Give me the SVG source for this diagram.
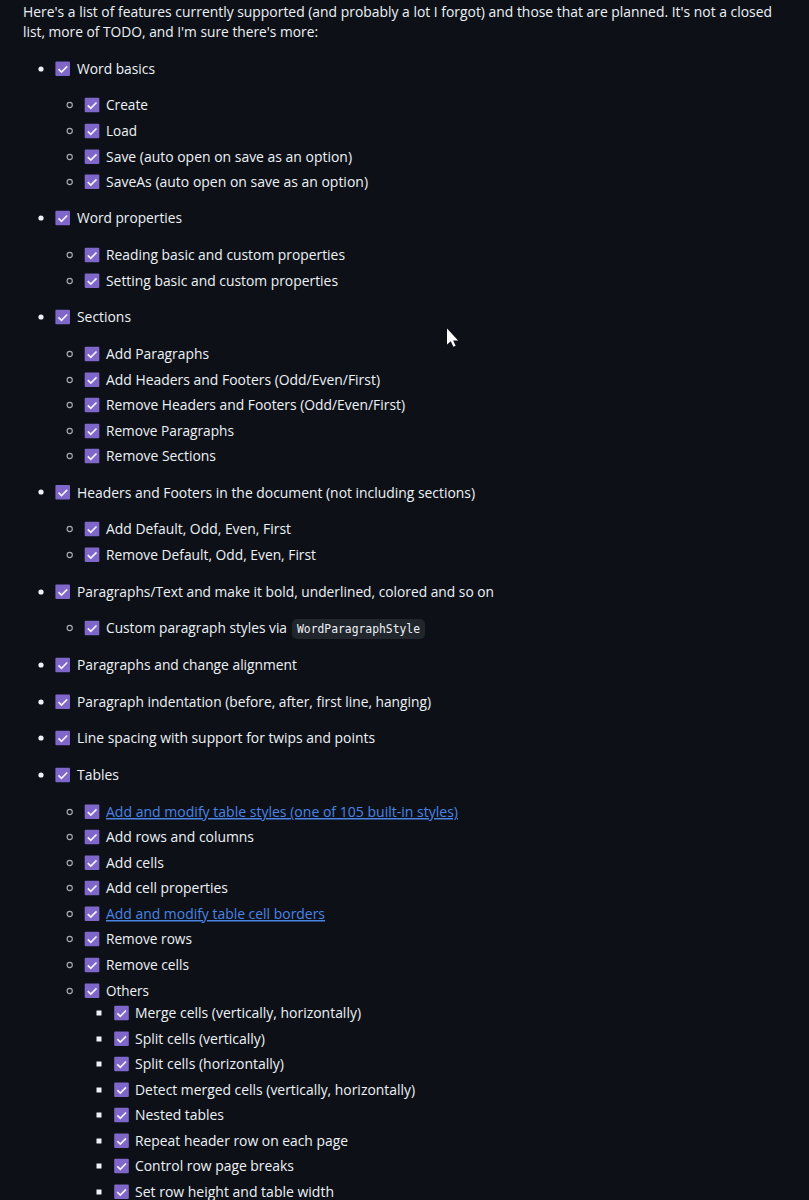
<svg xmlns="http://www.w3.org/2000/svg" width="809" height="1200" viewBox="0 0 809 1200">
<style>
text{font-family:"Open Sans","Noto Sans","Liberation Sans",sans-serif;font-size:15px;fill:#eef2f7}
.lnk{fill:#4a84e4;text-decoration:underline;text-underline-offset:3px}
.code{font-family:"DejaVu Sans Mono","Liberation Mono",monospace;font-size:11.5px}
.o{fill:none;stroke:#a9aeb5;stroke-width:1.1}
.d{fill:#eef2f7}
</style>
<defs>
<g id="cb"><rect x="0" y="0" width="14.6" height="14.6" rx="1" fill="#7f66c9"/><path d="M3.100 7.700l3 2.900 5.700-5.800" fill="none" stroke="#f4f2fc" stroke-width="1.700"/></g>
<circle id="b1" r="2.600" class="d"/>
<circle id="b2" r="2.600" class="o"/>
<rect id="b3" x="-2.500" y="-2.500" width="5" height="5" class="d"/>
</defs>
<rect width="809" height="1200" fill="#0d1117"/>
<g id="intro">
<text x="23" y="16.500" textLength="749" lengthAdjust="spacingAndGlyphs">Here's a list of features currently supported (and probably a lot I forgot) and those that are planned. It's not a closed</text>
<text x="23" y="37" textLength="295" lengthAdjust="spacingAndGlyphs">list, more of TODO, and I'm sure there's more:</text>
</g>
<g id="list">
<use href="#b1" x="41" y="69"/><use href="#cb" x="55.4" y="61.5"/><text x="77" y="74" textLength="78" lengthAdjust="spacingAndGlyphs">Word basics</text>
<use href="#b2" x="69.700" y="105"/><use href="#cb" x="84.7" y="97.7"/><text x="106" y="110" textLength="42" lengthAdjust="spacingAndGlyphs">Create</text>
<use href="#b2" x="69.700" y="131"/><use href="#cb" x="84.7" y="123.7"/><text x="106" y="136" textLength="31" lengthAdjust="spacingAndGlyphs">Load</text>
<use href="#b2" x="69.700" y="157"/><use href="#cb" x="84.7" y="149.5"/><text x="106" y="162" textLength="246" lengthAdjust="spacingAndGlyphs">Save (auto open on save as an option)</text>
<use href="#b2" x="69.700" y="182"/><use href="#cb" x="84.7" y="174.5"/><text x="106" y="187" textLength="262" lengthAdjust="spacingAndGlyphs">SaveAs (auto open on save as an option)</text>
<use href="#b1" x="41" y="218"/><use href="#cb" x="55.4" y="210.7"/><text x="77" y="223" textLength="105" lengthAdjust="spacingAndGlyphs">Word properties</text>
<use href="#b2" x="69.700" y="255"/><use href="#cb" x="84.7" y="247.7"/><text x="106" y="260" textLength="239" lengthAdjust="spacingAndGlyphs">Reading basic and custom properties</text>
<use href="#b2" x="69.700" y="281"/><use href="#cb" x="84.7" y="273.5"/><text x="106" y="286" textLength="232" lengthAdjust="spacingAndGlyphs">Setting basic and custom properties</text>
<use href="#b1" x="41" y="317"/><use href="#cb" x="55.4" y="309.7"/><text x="77" y="322" textLength="54" lengthAdjust="spacingAndGlyphs">Sections</text>
<use href="#b2" x="69.700" y="354"/><use href="#cb" x="84.7" y="346.7"/><text x="106" y="359" textLength="103" lengthAdjust="spacingAndGlyphs">Add Paragraphs</text>
<use href="#b2" x="69.700" y="380"/><use href="#cb" x="84.7" y="372.5"/><text x="106" y="385" textLength="274" lengthAdjust="spacingAndGlyphs">Add Headers and Footers (Odd/Even/First)</text>
<use href="#b2" x="69.700" y="405"/><use href="#cb" x="84.7" y="397.7"/><text x="106" y="410" textLength="299" lengthAdjust="spacingAndGlyphs">Remove Headers and Footers (Odd/Even/First)</text>
<use href="#b2" x="69.700" y="431"/><use href="#cb" x="84.7" y="423.7"/><text x="106" y="436" textLength="128" lengthAdjust="spacingAndGlyphs">Remove Paragraphs</text>
<use href="#b2" x="69.700" y="456"/><use href="#cb" x="84.7" y="448.7"/><text x="106" y="461" textLength="110" lengthAdjust="spacingAndGlyphs">Remove Sections</text>
<use href="#b1" x="41" y="492"/><use href="#cb" x="55.4" y="485"/><text x="77" y="498" textLength="398" lengthAdjust="spacingAndGlyphs">Headers and Footers in the document (not including sections)</text>
<use href="#b2" x="69.700" y="529"/><use href="#cb" x="84.7" y="521.7"/><text x="106" y="534" textLength="185" lengthAdjust="spacingAndGlyphs">Add Default, Odd, Even, First</text>
<use href="#b2" x="69.700" y="555"/><use href="#cb" x="84.7" y="547.5"/><text x="106" y="560" textLength="210" lengthAdjust="spacingAndGlyphs">Remove Default, Odd, Even, First</text>
<use href="#b1" x="41" y="592"/><use href="#cb" x="55.4" y="584.5"/><text x="77" y="597" textLength="417" lengthAdjust="spacingAndGlyphs">Paragraphs/Text and make it bold, underlined, colored and so on</text>
<use href="#b2" x="69.700" y="628"/><use href="#cb" x="84.7" y="620.7"/><text x="106" y="633" textLength="181" lengthAdjust="spacingAndGlyphs">Custom paragraph styles via</text>
<rect x="292" y="619" width="133" height="20" rx="5" fill="#21262d"/><text class="code" x="297" y="633" textLength="123" lengthAdjust="spacingAndGlyphs">WordParagraphStyle</text>
<use href="#b1" x="41" y="665"/><use href="#cb" x="55.4" y="657.7"/><text x="77" y="670" textLength="220" lengthAdjust="spacingAndGlyphs">Paragraphs and change alignment</text>
<use href="#b1" x="41" y="702"/><use href="#cb" x="55.4" y="694.5"/><text x="77" y="707" textLength="354" lengthAdjust="spacingAndGlyphs">Paragraph indentation (before, after, first line, hanging)</text>
<use href="#b1" x="41" y="738"/><use href="#cb" x="55.4" y="730.7"/><text x="77" y="743" textLength="298" lengthAdjust="spacingAndGlyphs">Line spacing with support for twips and points</text>
<use href="#b1" x="41" y="775"/><use href="#cb" x="55.4" y="767.7"/><text x="77" y="780" textLength="42" lengthAdjust="spacingAndGlyphs">Tables</text>
<use href="#b2" x="69.700" y="812"/><use href="#cb" x="84.7" y="804.5"/><text class="lnk" x="106" y="817" textLength="352" lengthAdjust="spacingAndGlyphs">Add and modify table styles (one of 105 built-in styles)</text>
<use href="#b2" x="69.700" y="837"/><use href="#cb" x="84.7" y="829.7"/><text x="106" y="842" textLength="148" lengthAdjust="spacingAndGlyphs">Add rows and columns</text>
<use href="#b2" x="69.700" y="863"/><use href="#cb" x="84.7" y="855.5"/><text x="106" y="868" textLength="58" lengthAdjust="spacingAndGlyphs">Add cells</text>
<use href="#b2" x="69.700" y="888"/><use href="#cb" x="84.7" y="880.7"/><text x="106" y="893" textLength="122" lengthAdjust="spacingAndGlyphs">Add cell properties</text>
<use href="#b2" x="69.700" y="914"/><use href="#cb" x="84.7" y="906.5"/><text class="lnk" x="106" y="919" textLength="219" lengthAdjust="spacingAndGlyphs">Add and modify table cell borders</text>
<use href="#b2" x="69.700" y="939"/><use href="#cb" x="84.7" y="931.7"/><text x="106" y="944" textLength="86" lengthAdjust="spacingAndGlyphs">Remove rows</text>
<use href="#b2" x="69.700" y="965"/><use href="#cb" x="84.7" y="957.7"/><text x="106" y="970" textLength="83" lengthAdjust="spacingAndGlyphs">Remove cells</text>
<use href="#b2" x="69.700" y="991"/><use href="#cb" x="84.7" y="983.5"/><text x="106" y="996" textLength="43" lengthAdjust="spacingAndGlyphs">Others</text>
<use href="#b3" x="99" y="1013"/><use href="#cb" x="114.2" y="1005.7"/><text x="135" y="1018" textLength="226" lengthAdjust="spacingAndGlyphs">Merge cells (vertically, horizontally)</text>
<use href="#b3" x="99" y="1039"/><use href="#cb" x="114.2" y="1031.5"/><text x="135" y="1044" textLength="130" lengthAdjust="spacingAndGlyphs">Split cells (vertically)</text>
<use href="#b3" x="99" y="1064"/><use href="#cb" x="114.2" y="1056.7"/><text x="135" y="1069" textLength="149" lengthAdjust="spacingAndGlyphs">Split cells (horizontally)</text>
<use href="#b3" x="99" y="1090"/><use href="#cb" x="114.2" y="1082.5"/><text x="135" y="1095" textLength="280" lengthAdjust="spacingAndGlyphs">Detect merged cells (vertically, horizontally)</text>
<use href="#b3" x="99" y="1115"/><use href="#cb" x="114.2" y="1107.7"/><text x="135" y="1120" textLength="89" lengthAdjust="spacingAndGlyphs">Nested tables</text>
<use href="#b3" x="99" y="1141"/><use href="#cb" x="114.2" y="1133.5"/><text x="135" y="1146" textLength="213" lengthAdjust="spacingAndGlyphs">Repeat header row on each page</text>
<use href="#b3" x="99" y="1166"/><use href="#cb" x="114.2" y="1158.7"/><text x="135" y="1171" textLength="159" lengthAdjust="spacingAndGlyphs">Control row page breaks</text>
<use href="#b3" x="99" y="1192"/><use href="#cb" x="114.2" y="1184.5"/><text x="135" y="1197" textLength="199" lengthAdjust="spacingAndGlyphs">Set row height and table width</text>
</g>
<path id="cursor" d="M447 328.500v16l3.800-3.200 2.600 5.400 2.200-1-2.500-5.300h5z" fill="#fff"/>
</svg>
